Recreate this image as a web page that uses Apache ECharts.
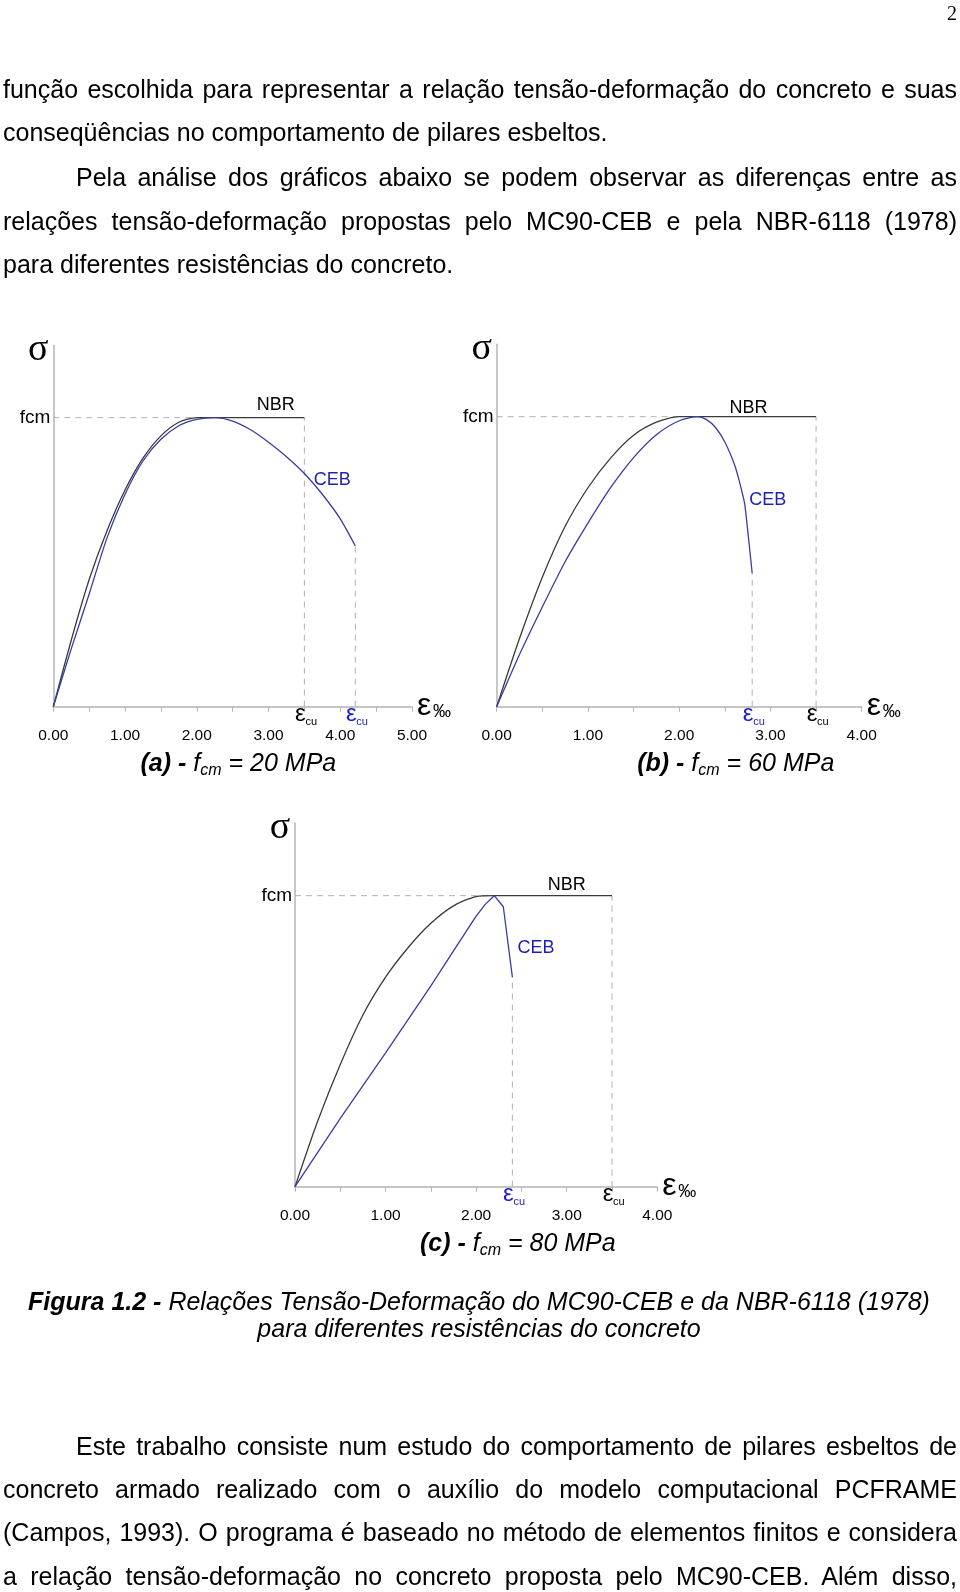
<!DOCTYPE html>
<html lang="pt">
<head>
<meta charset="utf-8">
<title>Figura 1.2</title>
<script src="https://cdn.jsdelivr.net/npm/echarts@6/dist/echarts.min.js"></script>
<style>
html,body{margin:0;padding:0;background:#fff;}
#page{position:relative;width:960px;height:1592px;overflow:hidden;background:#fff;color:#000;font-family:"Liberation Sans",Arial,Helvetica,sans-serif;}
#chart{position:absolute;left:0;top:0;width:960px;height:1592px;z-index:1;}
.ln{position:absolute;height:30px;line-height:30px;font-size:25px;white-space:nowrap;z-index:2;}
.cap{position:absolute;font-size:25px;line-height:30px;white-space:nowrap;font-style:italic;transform:translate(-50%,-50%);z-index:2;}
.cap sub{font-size:16px;vertical-align:-4px;line-height:0;}
.fig{position:absolute;font-size:25px;line-height:27px;white-space:nowrap;font-style:italic;transform:translateX(-50%);z-index:2;}
#pnum{position:absolute;right:3px;top:0px;font-family:"Liberation Serif","Times New Roman",serif;font-size:20px;line-height:26px;z-index:2;}
</style>
</head>
<body>
<div id="page">
<div id="chart"></div>
<div id="pnum">2</div>
</div>
<script>
// ---------------- data ----------------
// strain in permil (x), stress as fraction of fcm (y)
const xTicksA = ['0.00','1.00','2.00','3.00','4.00','5.00'];
const xTicksB = ['0.00','1.00','2.00','3.00','4.00'];
const xTicksC = ['0.00','1.00','2.00','3.00','4.00'];

const nbrA = [[0,0],[0.25,0.23],[0.5,0.44],[0.75,0.61],[1.0,0.75],[1.25,0.86],[1.5,0.937],[1.75,0.984],[2.0,1.0],[2.5,1.0],[3.0,1.0],[3.5,1.0]];
const cebA = [[0,0],[0.25,0.2],[0.5,0.39],[0.75,0.585],[1.0,0.735],[1.25,0.85],[1.5,0.925],[1.75,0.972],[2.0,0.994],[2.25,1.0],[2.5,0.988],[2.75,0.958],[3.0,0.915],[3.25,0.865],[3.5,0.807],[3.75,0.735],[4.0,0.65],[4.21,0.556]];

const nbrB = [[0,0],[0.25,0.235],[0.5,0.446],[0.75,0.622],[1.0,0.755],[1.25,0.858],[1.5,0.936],[1.75,0.981],[2.0,1.0],[2.5,1.0],[3.0,1.0],[3.5,1.0]];
const cebB = [[0,0],[0.25,0.18],[0.5,0.344],[0.75,0.5],[1.0,0.633],[1.25,0.756],[1.5,0.859],[1.75,0.938],[2.0,0.986],[2.2,1.0],[2.3,0.99],[2.4,0.962],[2.5,0.913],[2.6,0.84],[2.65,0.788],[2.7,0.725],[2.72,0.695],[2.76,0.58],[2.8,0.46]];

const nbrC = [[0,0],[0.25,0.225],[0.5,0.42],[0.75,0.59],[1.0,0.72],[1.25,0.822],[1.5,0.905],[1.75,0.965],[2.0,0.997],[2.2,1.0],[2.5,1.0],[3.0,1.0],[3.5,1.0]];
const cebC = [[0,0],[0.5,0.235],[1.0,0.46],[1.5,0.69],[1.75,0.81],[2.0,0.93],[2.1,0.97],[2.2,1.0],[2.3,0.962],[2.4,0.72]];

const panelLetters = ['(a)','(b)','(c)'];
const panelFcm = ['20','60','80'];

const bodyTopLines = [
  'função escolhida para representar a relação tensão-deformação do concreto e suas',
  'conseqüências no comportamento de pilares esbeltos.',
  'Pela análise dos gráficos abaixo se podem observar as diferenças entre as',
  'relações tensão-deformação propostas pelo MC90-CEB e pela NBR-6118 (1978)',
  'para diferentes resistências do concreto.'
];
const figureCaption = ['Figura 1.2 -', 'Relações Tensão-Deformação do MC90-CEB e da NBR-6118 (1978)', 'para diferentes resistências do concreto'];
const bodyBottomLines = [
  'Este trabalho consiste num estudo do comportamento de pilares esbeltos de',
  'concreto armado realizado com o auxílio do modelo computacional PCFRAME',
  '(Campos, 1993). O programa é baseado no método de elementos finitos e considera',
  'a relação tensão-deformação no concreto proposta pelo MC90-CEB. Além disso,'
];

// ---------------- layout ----------------
const FONT = '"Liberation Sans", Arial, Helvetica, sans-serif';
const SERIF = '"Liberation Serif", "Times New Roman", serif';
const AXIS_GRAY = '#b4b4b4';
const DASH_GRAY = '#b0b0b0';
const NBR_COLOR = '#3a3a3a';
const CEB_COLOR = '#3b3ba2';
const CEB_TEXT = '#1f1fb4';

const panels = [
  {grid:{left:53.3, top:345.4, width:358.7, height:361.3}, xmax:5, ticks:xTicksA, nbr:nbrA, ceb:cebA, cebSmooth:true,
   nbrLabel:[3.1,1.044], cebLabel:[3.89,0.784], captionX:2.58},
  {grid:{left:496.7, top:344.2, width:365, height:362.5}, xmax:4, ticks:xTicksB, nbr:nbrB, ceb:cebB, cebSmooth:true,
   nbrLabel:[2.76,1.03], cebLabel:[2.97,0.713], captionX:2.62},
  {grid:{left:295, top:822.9, width:362.3, height:363.8}, xmax:4, ticks:xTicksC, nbr:nbrC, ceb:cebC, cebSmooth:false,
   nbrLabel:[3.0,1.037], cebLabel:[2.66,0.82], captionX:2.46}
];

const page = document.getElementById('page');

// ---------------- ECharts ----------------
const chart = echarts.init(document.getElementById('chart'), null, {renderer:'canvas', width:960, height:1592});

const grids = [], xAxes = [], yAxes = [], series = [];
panels.forEach((p, i) => {
  grids.push(Object.assign({containLabel:false, outerBoundsMode:'none'}, p.grid));
  xAxes.push({
    gridIndex:i, type:'value', min:0, max:p.xmax, interval:0.5,
    axisLine:{show:true, onZero:false, lineStyle:{color:AXIS_GRAY, width:1.5}},
    axisTick:{show:true, length:5, inside:false, lineStyle:{color:AXIS_GRAY, width:1}},
    axisLabel:{show:true, margin:21, color:'#000', fontFamily:FONT, fontSize:15.5,
      formatter:(v)=>{ const r=Math.round(v); return Math.abs(v-r)<1e-6 && p.ticks[r]!==undefined ? p.ticks[r] : ''; }},
    splitLine:{show:false}
  });
  yAxes.push({
    gridIndex:i, type:'value', min:0, max:1.25, interval:0.25,
    axisLine:{show:true, lineStyle:{color:AXIS_GRAY, width:1.5}},
    axisTick:{show:false},
    axisLabel:{show:true, margin:3, color:'#000', fontFamily:FONT, fontSize:19,
      formatter:(v)=> Math.abs(v-1)<1e-6 ? 'fcm' : ''},
    splitLine:{show:false}
  });
  const nbrPeak = p.nbr.find(d => d[1] >= 1);
  const nEnd = p.nbr[p.nbr.length-1];
  const cEnd = p.ceb[p.ceb.length-1];
  const dashStyle = {color:DASH_GRAY, width:1, type:[6,5]};
  series.push({type:'line', xAxisIndex:i, yAxisIndex:i, data:[[0,nbrPeak[1]],[nbrPeak[0],nbrPeak[1]]], symbol:'none', lineStyle:dashStyle, silent:true, z:1});
  series.push({type:'line', xAxisIndex:i, yAxisIndex:i, data:[[nEnd[0],0],[nEnd[0],nEnd[1]]], symbol:'none', lineStyle:dashStyle, silent:true, z:1});
  series.push({type:'line', xAxisIndex:i, yAxisIndex:i, data:[[cEnd[0],0],[cEnd[0],cEnd[1]]], symbol:'none', lineStyle:dashStyle, silent:true, z:1});
  series.push({type:'line', name:'NBR', xAxisIndex:i, yAxisIndex:i, data:p.nbr, smooth:0.25, symbol:'none',
    lineStyle:{color:NBR_COLOR, width:1.3}, silent:true, z:3});
  series.push({type:'line', name:'CEB', xAxisIndex:i, yAxisIndex:i, data:p.ceb, smooth:p.cebSmooth?0.25:false, symbol:'none',
    lineStyle:{color:CEB_COLOR, width:1.3}, silent:true, z:4});
});

chart.setOption({animation:false, backgroundColor:'transparent', grid:grids, xAxis:xAxes, yAxis:yAxes, series:series});

// ---------------- annotations ----------------
function txt(x, y, text, size, opts) {
  opts = opts || {};
  return {
    type:'text', x:x, y:y, silent:true, z:10,
    style:{
      text:text, fontSize:size, fontFamily:opts.family||FONT, fontStyle:opts.style||'normal', fontWeight:opts.weight||'normal',
      fill:opts.fill||'#000',
      align:opts.align||'center', textAlign:opts.align||'center',
      verticalAlign:'middle', textVerticalAlign:'middle'
    }
  };
}
const elements = [];
panels.forEach((p, i) => {
  const px = (pt) => chart.convertToPixel({gridIndex:i}, pt);
  const top = px([0,1.25]);
  elements.push(txt(top[0]-15, top[1]+5, 'σ', 38, {family:SERIF}));
  const nl = px(p.nbrLabel);
  elements.push(txt(nl[0], nl[1], 'NBR', 18));
  const cl = px(p.cebLabel);
  elements.push(txt(cl[0], cl[1], 'CEB', 18, {fill:CEB_TEXT}));
  const end = px([p.xmax, 0]);
  elements.push(txt(end[0]+5, end[1]-1, 'ε', 32, {align:'left'}));
  elements.push(txt(end[0]+21, end[1]+5, '‰', 18, {align:'left'}));
  const nEnd = p.nbr[p.nbr.length-1], cEnd = p.ceb[p.ceb.length-1];
  [[nEnd[0], '#000'], [cEnd[0], '#1a1ac8']].forEach(([xv, col]) => {
    const q = px([xv, 0]);
    elements.push(txt(q[0]-4, q[1]+8, 'ε', 24, {fill:col}));
    elements.push(txt(q[0]+1, q[1]+15, 'cu', 11, {fill:col, align:'left'}));
  });
  const c = px([p.captionX, 0]);
  const d = document.createElement('div');
  d.className = 'cap';
  d.style.left = c[0] + 'px';
  d.style.top = (c[1] + 55) + 'px';
  d.innerHTML = '<b>' + panelLetters[i] + ' -</b> f<sub>cm</sub> = ' + panelFcm[i] + ' MPa';
  page.appendChild(d);
});
chart.setOption({graphic:{elements:elements}});

// ---------------- body text ----------------
function placeLine(text, cy, indent, justify) {
  const d = document.createElement('div');
  d.className = 'ln';
  d.textContent = text;
  d.style.left = (3 + indent) + 'px';
  d.style.top = (cy - 16) + 'px';
  page.appendChild(d);
  if (justify) {
    const w = d.getBoundingClientRect().width;
    const target = 954 - indent;
    const n = (text.match(/ /g) || []).length;
    if (n > 0) d.style.wordSpacing = ((target - w) / n) + 'px';
  }
}
const topY = [90, 133, 178, 222, 265];
placeLine(bodyTopLines[0], topY[0], 0, true);
placeLine(bodyTopLines[1], topY[1], 0, false);
placeLine(bodyTopLines[2], topY[2], 73, true);
placeLine(bodyTopLines[3], topY[3], 0, true);
placeLine(bodyTopLines[4], topY[4], 0, false);

const botY = [1447, 1490, 1533, 1577];
placeLine(bodyBottomLines[0], botY[0], 73, true);
placeLine(bodyBottomLines[1], botY[1], 0, true);
placeLine(bodyBottomLines[2], botY[2], 0, true);
placeLine(bodyBottomLines[3], botY[3], 0, true);

const f1 = document.createElement('div');
f1.className = 'fig';
f1.style.left = '479px';
f1.style.top = (1303 - 15) + 'px';
f1.innerHTML = '<b>' + figureCaption[0] + '</b> ' + figureCaption[1];
page.appendChild(f1);
const f2 = document.createElement('div');
f2.className = 'fig';
f2.style.left = '479px';
f2.style.top = (1330 - 15) + 'px';
f2.textContent = figureCaption[2];
page.appendChild(f2);
</script>
</body>
</html>
